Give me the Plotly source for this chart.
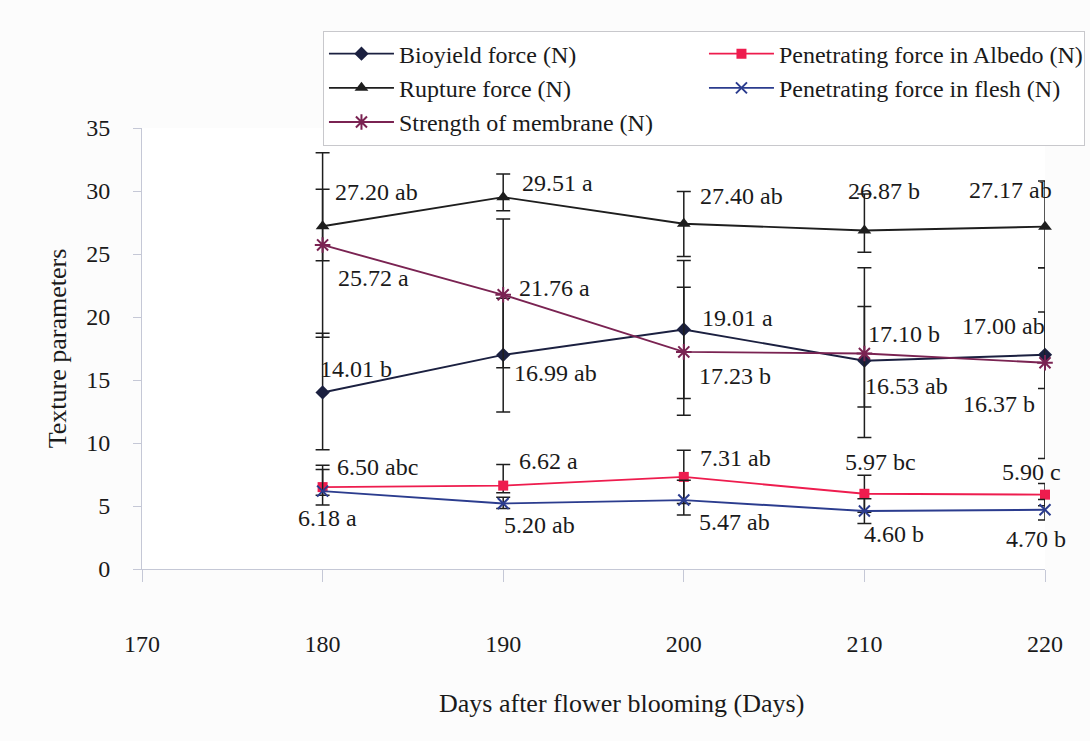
import plotly.graph_objects as go

# Sampling days after flower blooming
days = [180, 190, 200, 210, 220]

# Mean texture values (N) with significance letters
bioyield = [14.01, 16.99, 19.01, 16.53, 17.00]
bioyield_sig = ["b", "ab", "a", "ab", "ab"]
bioyield_up = [4.70, 4.50, 5.47, 4.31, 3.40]
bioyield_down = [4.54, 4.53, 5.48, 3.67, 2.68]

rupture = [27.20, 29.51, 27.40, 26.87, 27.17]
rupture_sig = ["ab", "a", "ab", "b", "ab"]
rupture_up = [2.94, 1.84, 2.57, 2.90, 3.63]
rupture_down = [2.73, 1.07, 2.60, 1.73, 3.27]

membrane = [25.72, 21.76, 17.23, 17.10, 16.37]
membrane_sig = ["a", "a", "b", "b", "b"]
membrane_up = [7.32, 6.02, 5.14, 6.80, 7.53]
membrane_down = [7.33, 5.78, 5.03, 6.67, 7.60]

albedo = [6.50, 6.62, 7.31, 5.97, 5.90]
albedo_sig = ["abc", "a", "ab", "bc", "c"]
albedo_up = [1.74, 1.68, 2.11, 1.47, 0.89]
albedo_down = [1.43, 0.57, 2.11, 1.47, 0.89]

flesh = [6.18, 5.20, 5.47, 4.60, 4.70]
flesh_sig = ["a", "ab", "ab", "b", "b"]
flesh_up = [1.72, 0.50, 1.58, 0.98, 0.82]
flesh_down = [0.32, 0.40, 1.19, 0.98, 0.82]

x_ticks = [170, 180, 190, 200, 210, 220]
y_ticks = [0, 5, 10, 15, 20, 25, 30, 35]

FONT = '"Liberation Serif", "Times New Roman", Times, serif'
TEXT = "#1a1a1a"
ERR_COLOR = "#1e1e1e"
AXIS_COLOR = "#c5c8d6"

# Trace order fills the two-column legend row by row
series = [
    dict(name="Bioyield force (N)", y=bioyield, up=bioyield_up, down=bioyield_down,
         color="#1b2040", symbol="diamond", size=11, sig=bioyield_sig,
         shifts=[(-5, 23), (9, -18), (16, 11), (-1, -25), (-85, 29)]),
    dict(name="Penetrating force in Albedo (N)", y=albedo, up=albedo_up, down=albedo_down,
         color="#ee1c4e", symbol="square", size=10, sig=albedo_sig,
         shifts=[(12, 20), (14, 25), (14, 19), (-21, 32), (-45, 23)]),
    dict(name="Rupture force (N)", y=rupture, up=rupture_up, down=rupture_down,
         color="#1e1e1e", symbol="triangle-up", size=12, sig=rupture_sig,
         shifts=[(10, 34), (17, 14), (14, 28), (-18, 39), (-78, 37)]),
    dict(name="Penetrating force in flesh (N)", y=flesh, up=flesh_up, down=flesh_down,
         color="#2b3c8e", symbol="x-thin-open", size=11, sig=flesh_sig,
         shifts=[(-27, -27), (-1, -22), (13, -22), (-2, -23), (-41, -29)]),
    dict(name="Strength of membrane (N)", y=membrane, up=membrane_up, down=membrane_down,
         color="#7a2352", symbol="asterisk-open", size=13, sig=membrane_sig,
         shifts=[(13, -33), (14, 7), (13, -24), (2, 20), (-84, -41)]),
]

fig = go.Figure()
annotations = []
for s in series:
    open_sym = s["symbol"].endswith("open")
    fig.add_trace(go.Scatter(
        x=days, y=s["y"], name=s["name"], mode="lines+markers",
        line=dict(color=s["color"], width=1.9),
        marker=dict(symbol=s["symbol"], size=s["size"], color=s["color"],
                    line=dict(color=s["color"], width=2 if open_sym else 0)),
        error_y=dict(type="data", symmetric=False, array=s["up"], arrayminus=s["down"],
                     color=ERR_COLOR, thickness=1.5, width=7),
        cliponaxis=False,
    ))
    for d, v, sg, (dx, dy) in zip(days, s["y"], s["sig"], s["shifts"]):
        annotations.append(dict(
            x=d, y=v, xref="x", yref="y", text=f"{v:.2f} {sg}", showarrow=False,
            xanchor="left", yanchor="middle", xshift=dx, yshift=dy,
            font=dict(family=FONT, size=24, color=TEXT),
        ))

# x-axis title, set slightly right of the plot centre
annotations.append(dict(
    x=0.531, y=0, xref="paper", yref="paper", yshift=-134,
    text="Days after flower blooming (Days)", showarrow=False,
    xanchor="center", yanchor="middle",
    font=dict(family=FONT, size=26, color=TEXT),
))

fig.update_layout(
    width=1090, height=741,
    margin=dict(l=142, r=45, t=127.5, b=172, autoexpand=False),
    paper_bgcolor="#fcfcfc", plot_bgcolor="#ffffff",
    font=dict(family=FONT, size=23, color=TEXT),
    showlegend=True,
    legend=dict(
        orientation="h", x=0.2004, y=1.221, xanchor="left", yanchor="top",
        entrywidth=300, entrywidthmode="pixels", itemwidth=65,
        bgcolor="#ffffff", bordercolor="#c8c8cc", borderwidth=1,
        font=dict(family=FONT, size=24, color=TEXT),
    ),
    annotations=annotations,
    xaxis=dict(
        range=[170, 220], tickvals=x_ticks, showgrid=False, zeroline=False,
        showline=True, linecolor=AXIS_COLOR, linewidth=1,
        ticks="outside", ticklen=12, tickcolor=AXIS_COLOR,
        ticklabelstandoff=41,
        tickfont=dict(family=FONT, size=24, color=TEXT),
    ),
    yaxis=dict(
        range=[0, 35], tickvals=y_ticks, showgrid=False, zeroline=False,
        showline=True, linecolor=AXIS_COLOR, linewidth=1,
        ticks="outside", ticklen=8, tickcolor=AXIS_COLOR,
        ticklabelstandoff=18,
        tickfont=dict(family=FONT, size=24, color=TEXT),
        title=dict(text="Texture parameters", standoff=12,
                   font=dict(family=FONT, size=26, color=TEXT)),
    ),
)

fig.write_html("out.html")
